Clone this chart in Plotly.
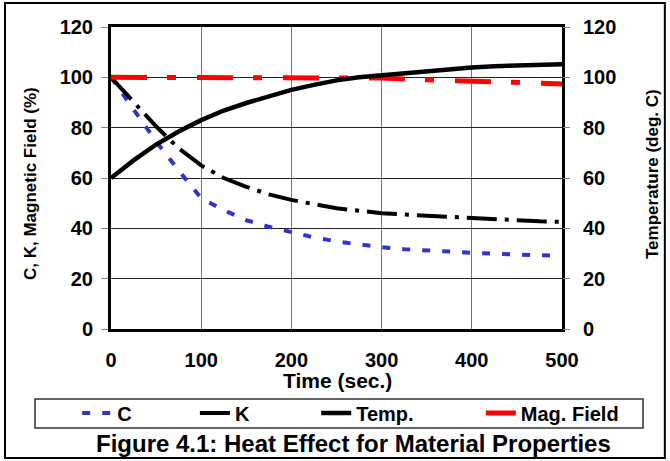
import plotly.graph_objects as go

time_s = [0, 25, 50, 75, 100, 125, 150, 175, 200, 225, 250, 275, 300, 325, 350, 375, 400, 425, 450, 475, 500]
c_vals = [100, 87, 74.5, 63, 52, 47.2, 43.2, 40.6, 38.4, 36.4, 34.8, 33.6, 32.5, 31.7, 31.1, 30.7, 30.3, 29.9, 29.6, 29.3, 29]
k_vals = [100, 90, 80.5, 71.8, 65, 60, 56.5, 53.5, 51.3, 49.6, 48, 47, 46, 45.5, 45, 44.5, 44, 43.5, 43.1, 42.8, 42.6]
temp_vals = [60, 67, 73.3, 78.5, 83, 86.8, 89.8, 92.5, 95, 97, 98.8, 100, 100.8, 101.8, 102.6, 103.3, 103.9, 104.4, 104.8, 105, 105.2]
mag_vals = [100, 100, 100, 100, 100, 100, 100, 100, 100, 100, 100, 100, 99.7, 99.3, 99, 98.6, 98.2, 98, 97.8, 97.6, 97.4]

x_ticks = [0, 100, 200, 300, 400, 500]
y_ticks = [0, 20, 40, 60, 80, 100, 120]

FONT = "Liberation Sans, Arial, sans-serif"

fig = go.Figure()
fig.add_trace(go.Scatter(x=time_s, y=c_vals, name="C", mode="lines",
                         line=dict(color="#3333cc", width=4, dash="8px,12px"), legend="legend"))
fig.add_trace(go.Scatter(x=time_s, y=k_vals, name="K", mode="lines",
                         line=dict(color="black", width=4, dash="30px,8px,4px,8px"), legend="legend2"))
fig.add_trace(go.Scatter(x=time_s, y=temp_vals, name="Temp.", mode="lines", yaxis="y2",
                         line=dict(color="black", width=4.5), legend="legend3"))
fig.add_trace(go.Scatter(x=time_s, y=mag_vals, name="Mag. Field", mode="lines",
                         line=dict(color="#ff0000", width=5, dash="36px,20px,9px,21px"), legend="legend4"))

tickfont = dict(family=FONT, size=20, color="black", weight="bold")
legfont = dict(family=FONT, size=20, color="black", weight="bold")

def leg(x):
    return dict(x=x, y=-0.278, xanchor="left", yanchor="middle", orientation="h",
                bgcolor="rgba(0,0,0,0)", borderwidth=0, font=legfont)

fig.update_layout(
    width=670, height=461,
    margin=dict(l=111, r=108, t=27, b=132),
    paper_bgcolor="white", plot_bgcolor="white",
    xaxis=dict(range=[0, 500], tickvals=x_ticks, showgrid=True, gridcolor="#777", gridwidth=1,
               showline=True, linecolor="black", linewidth=3, mirror=True, ticks="",
               ticklabelstandoff=11, tickfont=tickfont, zeroline=False),
    yaxis=dict(range=[0, 120], tickvals=y_ticks, showgrid=True, gridcolor="#222", gridwidth=1,
               showline=True, linecolor="black", linewidth=3, mirror=True, ticks="outside",
               ticklen=7, tickcolor="#888", ticklabelstandoff=4, tickfont=tickfont, zeroline=False),
    yaxis2=dict(range=[0, 120], tickvals=y_ticks, overlaying="y", side="right", showgrid=False,
                showline=False, ticks="outside", ticklen=7, tickcolor="#888",
                ticklabelstandoff=9, tickfont=tickfont, zeroline=False),
    showlegend=True,
    legend=leg(-0.075), legend2=leg(0.186), legend3=leg(0.455), legend4=leg(0.820),
    shapes=[
        dict(type="rect", xref="paper", yref="paper", x0=-0.235, x1=1.228, y0=-0.427, y1=1.0795,
             line=dict(color="black", width=2), layer="below"),
        dict(type="rect", xref="paper", yref="paper", x0=(35 - 111) / 451, x1=(643 - 111) / 451,
             y0=(329 - 428) / 302, y1=(329 - 399) / 302, line=dict(color="#333", width=1.5)),
    ],
    annotations=[
        dict(text="Time (sec.)", xref="paper", yref="paper", x=(337 - 111) / 451, y=(329 - 380) / 302,
             xanchor="center", yanchor="middle", showarrow=False,
             font=dict(family=FONT, size=21, color="black", weight="bold")),
        dict(text="C, K, Magnetic Field (%)", xref="paper", yref="paper", x=(30 - 111) / 451,
             y=(329 - 184) / 302, textangle=-90, xanchor="center", yanchor="middle", showarrow=False,
             font=dict(family=FONT, size=17, color="black", weight="bold")),
        dict(text="Temperature (deg. C)", xref="paper", yref="paper", x=(652 - 111) / 451,
             y=(329 - 174) / 302, textangle=-90, xanchor="center", yanchor="middle", showarrow=False,
             font=dict(family=FONT, size=17, color="black", weight="bold")),
        dict(text="Figure 4.1: Heat Effect for Material Properties", xref="paper", yref="paper",
             x=(353 - 111) / 451, y=(329 - 443) / 302, xanchor="center", yanchor="middle", showarrow=False,
             font=dict(family=FONT, size=24, color="black", weight="bold")),
    ],
)

fig.write_html("out.html", post_script="document.body.style.margin='0';",
               config={"displayModeBar": False})
